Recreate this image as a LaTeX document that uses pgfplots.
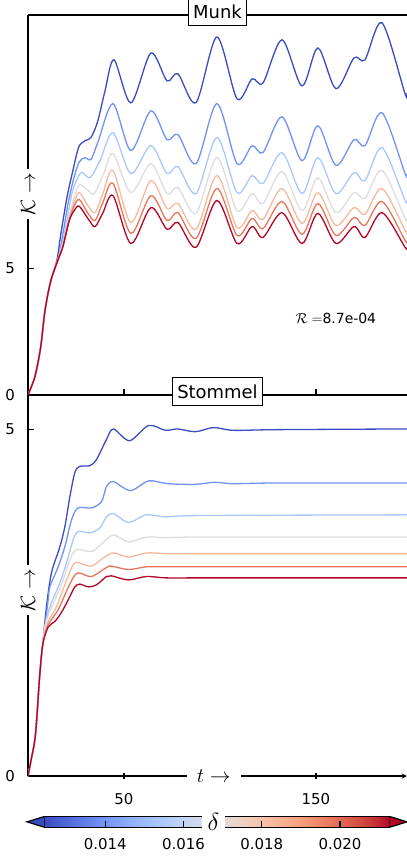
\documentclass[border=0pt]{standalone}
\usepackage{pgfplots}
\pgfplotsset{compat=1.18}
\usepackage{fontspec}
\setmainfont{DejaVu Sans}
\definecolor{c1}{RGB}{59,76,192}
\definecolor{c2}{RGB}{112,146,243}
\definecolor{c3}{RGB}{170,199,254}
\definecolor{c4}{RGB}{221,221,221}
\definecolor{c5}{RGB}{247,184,156}
\definecolor{c6}{RGB}{231,117,92}
\definecolor{c7}{RGB}{180,4,38}
\pgfplotsset{
  colormap={coolwarm}{rgb255=(59,76,192) rgb255=(68,90,204) rgb255=(77,104,215) rgb255=(87,117,225) rgb255=(98,130,234) rgb255=(108,142,241) rgb255=(119,154,247) rgb255=(130,165,251) rgb255=(141,176,254) rgb255=(152,185,255) rgb255=(163,194,255) rgb255=(174,201,253) rgb255=(184,208,249) rgb255=(194,213,244) rgb255=(204,217,238) rgb255=(213,219,230) rgb255=(221,221,221) rgb255=(229,216,209) rgb255=(236,211,197) rgb255=(241,204,185) rgb255=(245,196,173) rgb255=(247,187,160) rgb255=(247,177,148) rgb255=(247,166,135) rgb255=(244,154,123) rgb255=(241,141,111) rgb255=(236,127,99) rgb255=(229,112,88) rgb255=(222,96,77) rgb255=(213,80,66) rgb255=(203,62,56) rgb255=(192,40,47) rgb255=(180,4,38)},
  panel/.style={
    scale only axis, width=379bp,
    xmin=0, xmax=197.4, ymin=0,
    axis y line=left,
    axis line style={-, line width=1.3bp, black},
    tick align=inside, major tick length=6bp,
    major tick style={line width=1.2bp, black},
    xtick={50,150}, ytick={0,5},
    xtick pos=left, ytick pos=left,
    /pgf/number format/assume math mode=true,
    tick label style={font=\fontsize{15}{17}\selectfont},
    yticklabel style={inner sep=0pt, anchor=east, xshift=-13bp},
    xticklabel style={inner sep=0pt, anchor=north, yshift=-14bp},
    ylabel style={anchor=center, fill=white, inner xsep=4bp, inner ysep=2bp, font=\fontsize{21}{23}\selectfont},
    title style={at={(0.5,1)}, anchor=center, yshift=-2.5bp, draw=black, fill=white, line width=1bp, inner xsep=5bp, inner ysep=7.5bp, font=\fontsize{18}{20}\selectfont},
    clip mode=individual,
    every axis plot/.append style={line width=1.3bp, smooth, no markers},
  }
}
\begin{document}
\begin{tikzpicture}
\useasboundingbox (-28bp,15bp) rectangle (379bp,-842bp);
% ---------------- Munk ----------------
\begin{axis}[panel, at={(0,0)}, anchor=north west, height=380bp, ymax=15,
  axis x line=box, xticklabels={},
  title={Munk},
  ylabel={$\mathcal{K}\rightarrow$},
  ylabel style={at={(axis description cs:0,0.529)}},
]
\addplot[c1] coordinates {(0,0) (1.6,0.3) (3.6,0.72) (5.5,1.4) (6.9,2.05) (8.6,3.2) (10.4,4.0) (12.2,4.6) (14,5.0) (15.5,5.5) (17,6.3) (20.3,7.8) (23.5,8.9) (26.5,9.8) (30,10.05) (32.8,10.16) (36.3,10.8) (40.1,12.0) (44.8,13.23) (53.6,11.53) (64,13.5) (72.4,12.4) (78.1,12.68) (87.5,11.54) (98.4,14.13) (108.9,11.69) (116.7,12.48) (122.4,12.32) (132.3,14.02) (142.7,12.2) (151,13.7) (160.4,12.09) (169.8,13.31) (175.5,13.23) (184.4,14.69) (196.4,11.89) (197.4,11.92)};
\addplot[c2] coordinates {(0,0) (1.6,0.3) (3.6,0.72) (5.5,1.4) (6.9,2.05) (8.6,3.2) (10.4,4.0) (12.2,4.6) (14,5.0) (16,5.45) (18.5,6.5) (21,7.6) (24,8.6) (26.7,9.2) (29.7,9.37) (32.8,9.3) (36.5,10.0) (44.3,11.5) (53.6,9.65) (64,11.22) (72.4,10.08) (78.1,10.28) (87.5,9.13) (98.4,11.5) (108.9,9.13) (116.7,9.84) (122.4,9.57) (132.3,10.98) (142.7,9.25) (151,10.63) (160.4,9.06) (169.8,10.08) (175.5,9.84) (184.4,11.14) (196.4,8.74) (197.4,8.72)};
\addplot[c3] coordinates {(0,0) (1.6,0.3) (3.6,0.72) (5.5,1.4) (6.9,2.05) (8.6,3.2) (10.4,4.0) (12.2,4.6) (14,5.0) (16,5.45) (18.5,6.2) (21,7.2) (23.4,8.1) (27.6,8.78) (32.3,8.58) (37.5,9.25) (44.3,10.35) (53.6,8.74) (64,9.84) (72.4,8.74) (78.1,9.02) (87.5,7.95) (98.4,10.16) (108.9,7.99) (116.7,8.66) (122.4,8.35) (132.3,9.57) (142.7,7.95) (151,9.37) (160.4,7.95) (169.8,8.78) (175.5,8.46) (184.4,9.76) (196.4,7.68) (197.4,7.66)};
\addplot[c4] coordinates {(0,0) (1.6,0.3) (3.6,0.72) (5.5,1.4) (6.9,2.05) (8.6,3.2) (10.4,4.0) (12.2,4.6) (14,5.0) (16,5.45) (18.5,6.05) (21,6.9) (24,7.8) (26.7,8.3) (31,8.1) (34.5,7.95) (39.5,8.75) (44.3,9.53) (53.6,7.99) (64,9.13) (72.4,7.95) (78.1,8.19) (87.5,7.17) (98.4,9.37) (108.9,7.28) (116.7,7.95) (122.4,7.56) (132.3,8.82) (142.7,7.28) (151,8.58) (160.4,7.2) (169.8,7.99) (175.5,7.76) (184.4,8.86) (196.4,6.97) (197.4,6.96)};
\addplot[c5] coordinates {(0,0) (1.6,0.3) (3.6,0.72) (5.5,1.4) (6.9,2.05) (8.6,3.2) (10.4,4.0) (12.2,4.6) (14,5.0) (16,5.45) (18.5,5.95) (21.5,6.9) (24,7.6) (26.7,7.99) (31,7.5) (34.9,7.2) (39,7.95) (44.3,8.86) (53.6,6.81) (64,8.46) (72.4,7.36) (78.1,7.56) (87.5,6.54) (98.4,8.66) (108.9,6.61) (116.7,7.28) (122.4,6.93) (132.3,8.15) (142.7,6.77) (151,7.99) (160.4,6.69) (169.8,7.4) (175.5,7.13) (184.4,8.15) (196.4,6.5) (197.4,6.49)};
\addplot[c6] coordinates {(0,0) (1.6,0.3) (3.6,0.72) (5.5,1.4) (6.9,2.05) (8.6,3.2) (10.4,4.0) (12.2,4.6) (14,5.0) (16,5.45) (18.3,5.9) (21.5,6.9) (24,7.45) (26.7,7.72) (31,7.2) (34.9,6.89) (39,7.6) (44.3,8.35) (53.6,6.38) (64,7.87) (72.4,6.89) (78.1,7.2) (87.5,6.18) (98.4,8.15) (108.9,6.3) (116.7,6.97) (122.4,6.57) (132.3,7.64) (142.7,6.34) (151,7.56) (160.4,6.3) (169.8,7.01) (175.5,6.69) (184.4,7.64) (196.4,6.1) (197.4,6.09)};
\addplot[c7] coordinates {(0,0) (1.6,0.3) (3.6,0.72) (5.5,1.4) (6.9,2.05) (8.6,3.2) (10.4,4.0) (12.2,4.6) (14,5.0) (16,5.4) (18.1,5.83) (21.5,6.89) (24.1,7.28) (26.7,7.45) (31.9,6.89) (35,6.65) (38.9,7.17) (44.3,7.87) (53.6,5.98) (64,7.4) (72.4,6.54) (78.1,6.81) (87.5,5.83) (98.4,7.68) (108.9,5.98) (116.7,6.65) (122.4,6.22) (132.3,7.2) (142.7,5.98) (151,7.17) (160.4,5.98) (169.8,6.65) (175.5,6.22) (184.4,7.2) (196.4,5.83) (197.4,5.82)};
\node[anchor=west, font=\fontsize{14}{16}\selectfont] at (axis cs:137.5,3.03) {$\mathcal{R}=$8.7e-04};
\end{axis}
% ---------------- Stommel ----------------
\begin{axis}[panel, at={(0,-380bp)}, anchor=north west, height=381bp, ymax=5.5,
  axis x line=bottom,
  title={Stommel},
  xlabel={$t\rightarrow$},
  xlabel style={at={(axis description cs:0.49,0)}, anchor=center, fill=white, inner xsep=10bp, inner ysep=3bp, font=\fontsize{21}{23}\selectfont},
  ylabel={$\mathcal{K}\rightarrow$},
  ylabel style={at={(axis description cs:0,0.488)}},
  colormap name=coolwarm,
  point meta min=0.01244, point meta max=0.02127,
  colorbar horizontal,
  colorbar style={
    at={(parent axis.south west)}, anchor=north west,
    xshift=16.3bp, yshift=-32bp,
    width=345.4bp, height=10.7bp, scale only axis,
    xtick={0.014,0.016,0.018,0.020},
    scaled x ticks=false,
    xtick pos=left, xticklabel pos=left,
    tick align=inside, major tick length=6bp,
    major tick style={line width=1.2bp, black},
    axis line style={line width=1.2bp, black},
    xticklabel style={/pgf/number format/.cd, fixed, fixed zerofill, precision=3, assume math mode=true, /tikz/.cd, inner sep=0pt, anchor=north, yshift=-11bp, font=\fontsize{15}{17}\selectfont},
    after end axis/.code={
      \filldraw[fill=c1, draw=black, line width=1.2bp, line join=miter] (rel axis cs:0,0) -- ([xshift=-17.3bp]rel axis cs:0,0.5) -- (rel axis cs:0,1);
      \filldraw[fill=c7, draw=black, line width=1.2bp, line join=miter] (rel axis cs:1,0) -- ([xshift=17.3bp]rel axis cs:1,0.5) -- (rel axis cs:1,1);
      \node[fill=white, inner xsep=6bp, inner ysep=2bp, font=\fontsize{24}{26}\selectfont] at (rel axis cs:0.49,0.5) {$\delta$};
    },
  },
]
\addplot[c1] coordinates {(0,0) (1.6,0.23) (3.9,0.6) (6.1,1.45) (7.7,1.9) (9.6,2.44) (12.2,2.93) (16.6,3.31) (19.2,3.6) (21.8,4.03) (24.4,4.38) (27,4.47) (32.2,4.48) (35.7,4.57) (40.9,4.86) (44.5,5.01) (52.9,4.84) (62.8,5.06) (71.6,4.99) (77.9,5.01) (87.2,4.97) (96.6,5.03) (107,4.99) (130,5.0) (197.4,5.01)};
\addplot[c2] coordinates {(0,0) (1.6,0.23) (3.9,0.6) (6.1,1.45) (7.7,1.9) (10.5,2.54) (11.4,2.73) (15.7,3.02) (19.2,3.31) (22.7,3.7) (26.1,3.87) (33.1,3.87) (38.3,3.96) (40.9,4.18) (44.5,4.25) (53.4,4.12) (62.8,4.26) (72.7,4.22) (87,4.21) (97,4.24) (107,4.22) (130,4.23) (197.4,4.23)};
\addplot[c3] coordinates {(0,0) (1.6,0.23) (3.9,0.6) (6.1,1.45) (7.7,1.9) (8.75,2.15) (11.4,2.44) (16.6,2.79) (20.1,3.08) (23.5,3.41) (26.1,3.53) (32.2,3.51) (37.4,3.58) (40.9,3.74) (44.5,3.79) (52.3,3.66) (61.7,3.77) (72,3.74) (90,3.76) (197.4,3.77)};
\addplot[c4] coordinates {(0,0) (1.6,0.23) (3.9,0.6) (6.1,1.45) (7.7,1.9) (9.6,2.25) (14,2.54) (18.3,2.83) (21.8,3.12) (25.3,3.27) (33.1,3.24) (39.2,3.37) (44.5,3.48) (52.3,3.38) (61.7,3.45) (72,3.44) (90,3.45) (197.4,3.45)};
\addplot[c5] coordinates {(0,0) (1.6,0.23) (3.9,0.6) (6.1,1.45) (7.7,1.9) (10.5,2.23) (14.8,2.44) (20.1,2.83) (23.5,3.05) (26.1,3.08) (33.1,3.03) (39.2,3.15) (44.5,3.22) (52.3,3.16) (61.7,3.22) (72,3.21) (90,3.21) (197.4,3.21)};
\addplot[c6] coordinates {(0,0) (1.6,0.23) (3.9,0.6) (6.1,1.45) (7.7,1.9) (10.5,2.18) (15.7,2.4) (20.9,2.72) (24.4,2.9) (27,2.93) (33.1,2.88) (40.9,3.01) (43.5,3.03) (52.3,2.98) (61.7,3.02) (72,3.02) (90,3.02) (197.4,3.02)};
\addplot[c7] coordinates {(0,0) (1.6,0.23) (3.9,0.6) (6.1,1.45) (7.7,1.9) (10.5,2.15) (14,2.23) (17.4,2.36) (20.9,2.54) (24.4,2.73) (27,2.77) (31.4,2.73) (35.7,2.76) (40.9,2.88) (43.5,2.89) (52.3,2.83) (61.7,2.88) (72,2.86) (90,2.86) (197.4,2.86)};
\end{axis}
\end{tikzpicture}
\end{document}
